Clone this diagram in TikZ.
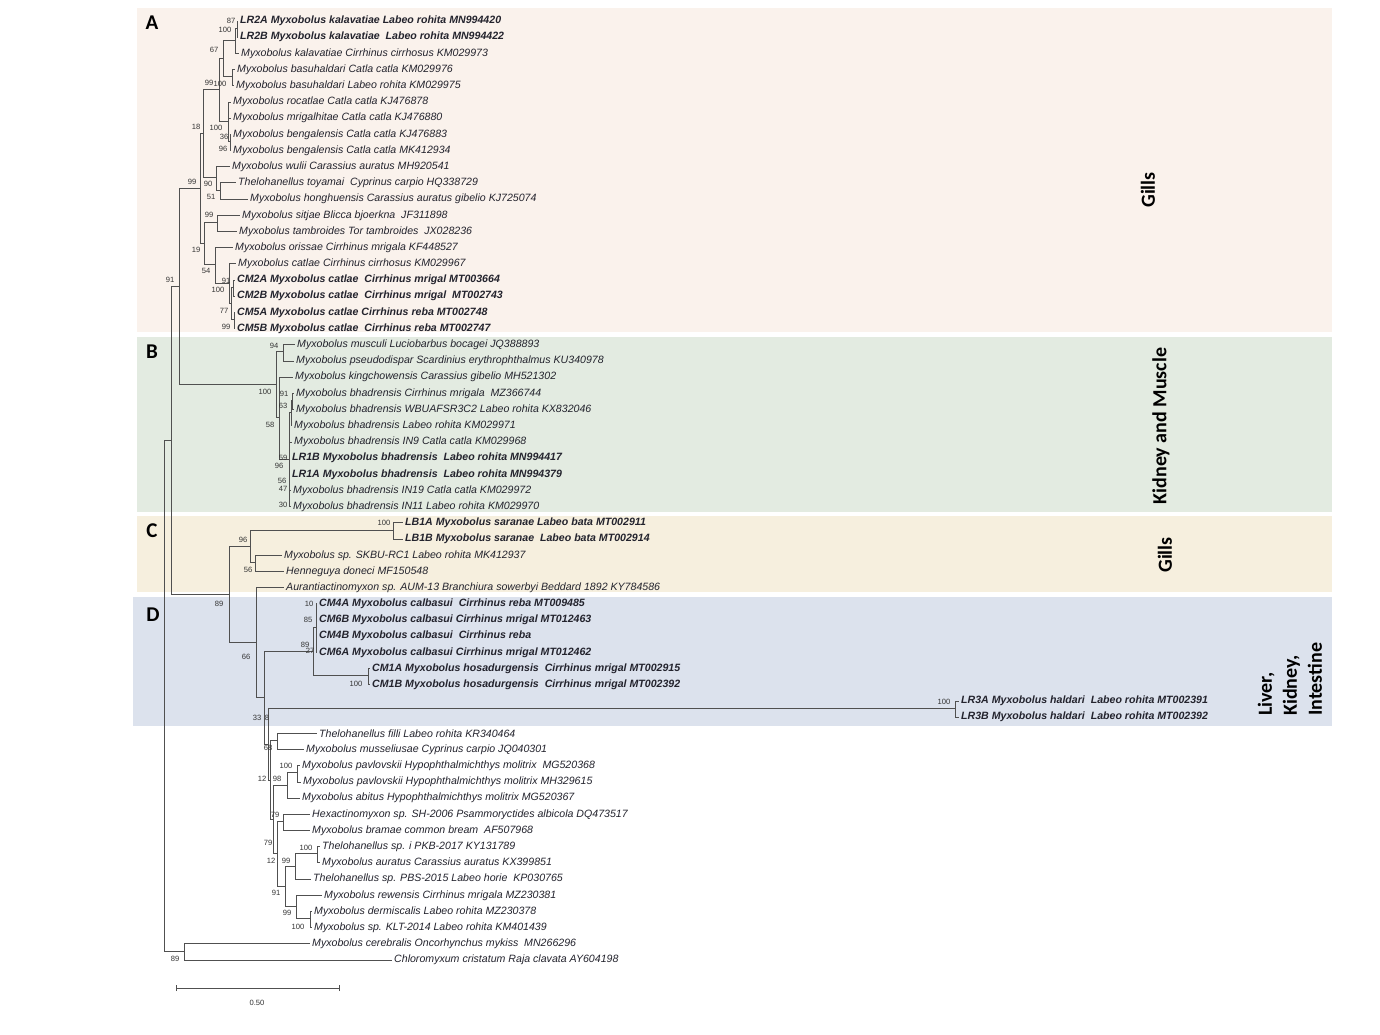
\documentclass[tikz,border=0pt]{standalone}
\usepackage{fontspec}
\setmainfont{Liberation Sans}
\newfontfamily\calfont{Carlito}
\definecolor{pA}{RGB}{250,242,236}
\definecolor{pB}{RGB}{227,235,225}
\definecolor{pC}{RGB}{246,239,222}
\definecolor{pD}{RGB}{220,226,237}
\definecolor{tline}{RGB}{80,80,80}
\definecolor{ltxt}{RGB}{35,35,45}
\newcommand\tedge[2]{\draw[tr] (#1) |- (#2);}
\newcommand\ledge[2]{\draw[tr] (#1) |- ([xshift=-2.5pt]#2.west);}
\begin{document}
\begin{tikzpicture}[x=1pt,y=-1pt,
 tr/.style={draw=tline,line width=0.9pt},
 lf/.style={anchor=west,inner sep=0pt,yshift=-1pt,text=ltxt,font=\fontsize{10.6}{12}\selectfont\itshape},
 lfb/.style={lf,font=\fontsize{10.6}{12}\selectfont\bfseries\itshape},
 bs/.style={inner sep=0pt,text=black!80,font=\fontsize{7.6}{8}\selectfont},
 tissue/.style={inner sep=0pt,font=\calfont\bfseries\fontsize{20}{25}\selectfont},
 letter/.style={inner sep=0pt,font=\calfont\bfseries\fontsize{21}{24}\selectfont}]
\useasboundingbox[fill=white] (0,0) rectangle (1380,1035);
% panels
\fill[pA] (137,8) rectangle (1332,332);
\fill[pB] (137,337) rectangle (1332,512);
\fill[pC] (137,516) rectangle (1332,592);
\fill[pD] (133,597) rectangle (1332,726);
\node[letter] (lA) at (152,23) {A};
\node[letter] (lB) at (152,352) {B};
\node[letter] (lC) at (152,531) {C};
\node[letter] (lD) at (153,615) {D};
\node[tissue,rotate=90] (tA) at (1148,190) {Gills};
\node[tissue,rotate=90] (tB) at (1161,426) {Kidney and Muscle};
\node[tissue,rotate=90] (tC) at (1165,555) {Gills};
\node[tissue,rotate=90,anchor=west,align=left] (tD) at (1290,716) {Liver,\\Kidney,\\Intestine};
% leaves
\node[lfb] (L1) at (240,20.0) {LR2A Myxobolus kalavatiae Labeo rohita MN994420};
\node[lfb] (L2) at (240,36.2) {LR2B Myxobolus kalavatiae\ \ Labeo rohita MN994422};
\node[lf] (L3) at (241,52.4) {Myxobolus kalavatiae Cirrhinus cirrhosus KM029973};
\node[lf] (L4) at (237,68.6) {Myxobolus basuhaldari Catla catla KM029976};
\node[lf] (L5) at (236,84.8) {Myxobolus basuhaldari Labeo rohita KM029975};
\node[lf] (L6) at (233,101.0) {Myxobolus rocatlae Catla catla KJ476878};
\node[lf] (L7) at (233,117.1) {Myxobolus mrigalhitae Catla catla KJ476880};
\node[lf] (L8) at (233,133.3) {Myxobolus bengalensis Catla catla KJ476883};
\node[lf] (L9) at (233,149.5) {Myxobolus bengalensis Catla catla MK412934};
\node[lf] (L10) at (232,165.7) {Myxobolus wulii Carassius auratus MH920541};
\node[lf] (L11) at (238,181.9) {Thelohanellus toyamai\ \ Cyprinus carpio HQ338729};
\node[lf] (L12) at (250,198.1) {Myxobolus honghuensis Carassius auratus gibelio KJ725074};
\node[lf] (L13) at (242,214.3) {Myxobolus sitjae Blicca bjoerkna\ \ JF311898};
\node[lf] (L14) at (239,230.5) {Myxobolus tambroides Tor tambroides\ \ JX028236};
\node[lf] (L15) at (235,246.7) {Myxobolus orissae Cirrhinus mrigala KF448527};
\node[lf] (L16) at (238,262.9) {Myxobolus catlae Cirrhinus cirrhosus KM029967};
\node[lfb] (L17) at (237,279.0) {CM2A Myxobolus catlae\ \ Cirrhinus mrigal MT003664};
\node[lfb] (L18) at (237,295.2) {CM2B Myxobolus catlae\ \ Cirrhinus mrigal\ \ MT002743};
\node[lfb] (L19) at (237,311.4) {CM5A Myxobolus catlae Cirrhinus reba MT002748};
\node[lfb] (L20) at (237,327.6) {CM5B Myxobolus catlae\ \ Cirrhinus reba MT002747};
\node[lf] (L21) at (297,343.8) {Myxobolus musculi Luciobarbus bocagei JQ388893};
\node[lf] (L22) at (296,360.0) {Myxobolus pseudodispar Scardinius erythrophthalmus KU340978};
\node[lf] (L23) at (295,376.2) {Myxobolus kingchowensis Carassius gibelio MH521302};
\node[lf] (L24) at (296,392.4) {Myxobolus bhadrensis Cirrhinus mrigala\ \ MZ366744};
\node[lf] (L25) at (296,408.6) {Myxobolus bhadrensis WBUAFSR3C2 Labeo rohita KX832046};
\node[lf] (L26) at (294,424.8) {Myxobolus bhadrensis Labeo rohita KM029971};
\node[lf] (L27) at (294,441.0) {Myxobolus bhadrensis IN9 Catla catla KM029968};
\node[lfb] (L28) at (292,457.1) {LR1B Myxobolus bhadrensis\ \ Labeo rohita MN994417};
\node[lfb] (L29) at (292,473.3) {LR1A Myxobolus bhadrensis\ \ Labeo rohita MN994379};
\node[lf] (L30) at (293,489.5) {Myxobolus bhadrensis IN19 Catla catla KM029972};
\node[lf] (L31) at (293,505.7) {Myxobolus bhadrensis IN11 Labeo rohita KM029970};
\node[lfb] (L32) at (405,521.9) {LB1A Myxobolus saranae Labeo bata MT002911};
\node[lfb] (L33) at (405,538.1) {LB1B Myxobolus saranae\ \ Labeo bata MT002914};
\node[lf] (L34) at (284,554.3) {Myxobolus sp. SKBU-RC1 Labeo rohita MK412937};
\node[lf] (L35) at (286,570.5) {Henneguya doneci MF150548};
\node[lf] (L36) at (286,586.7) {Aurantiactinomyxon sp. AUM-13 Branchiura sowerbyi Beddard 1892 KY784586};
\node[lfb] (L37) at (319,602.9) {CM4A Myxobolus calbasui\ \ Cirrhinus reba MT009485};
\node[lfb] (L38) at (319,619.0) {CM6B Myxobolus calbasui Cirrhinus mrigal MT012463};
\node[lfb] (L39) at (319,635.2) {CM4B Myxobolus calbasui\ \ Cirrhinus reba};
\node[lfb] (L40) at (319,651.4) {CM6A Myxobolus calbasui Cirrhinus mrigal MT012462};
\node[lfb] (L41) at (372,667.6) {CM1A Myxobolus hosadurgensis\ \ Cirrhinus mrigal MT002915};
\node[lfb] (L42) at (372,683.8) {CM1B Myxobolus hosadurgensis\ \ Cirrhinus mrigal MT002392};
\node[lfb] (L43) at (961,700.0) {LR3A Myxobolus haldari\ \ Labeo rohita MT002391};
\node[lfb] (L44) at (961,716.2) {LR3B Myxobolus haldari\ \ Labeo rohita MT002392};
\node[lf] (L45) at (319,732.4) {Thelohanellus filli Labeo rohita KR340464};
\node[lf] (L46) at (306,748.6) {Myxobolus musseliusae Cyprinus carpio JQ040301};
\node[lf] (L47) at (302,764.8) {Myxobolus pavlovskii Hypophthalmichthys molitrix\ \ MG520368};
\node[lf] (L48) at (303,781.0) {Myxobolus pavlovskii Hypophthalmichthys molitrix MH329615};
\node[lf] (L49) at (302,797.1) {Myxobolus abitus Hypophthalmichthys molitrix MG520367};
\node[lf] (L50) at (312,813.3) {Hexactinomyxon sp. SH-2006 Psammoryctides albicola DQ473517};
\node[lf] (L51) at (312,829.5) {Myxobolus bramae common bream\ \ AF507968};
\node[lf] (L52) at (322,845.7) {Thelohanellus sp. i PKB-2017 KY131789};
\node[lf] (L53) at (322,861.9) {Myxobolus auratus Carassius auratus KX399851};
\node[lf] (L54) at (313,878.1) {Thelohanellus sp. PBS-2015 Labeo horie\ \ KP030765};
\node[lf] (L55) at (324,894.3) {Myxobolus rewensis Cirrhinus mrigala MZ230381};
\node[lf] (L56) at (314,910.5) {Myxobolus dermiscalis Labeo rohita MZ230378};
\node[lf] (L57) at (314,926.7) {Myxobolus sp. KLT-2014 Labeo rohita KM401439};
\node[lf] (L58) at (312,942.9) {Myxobolus cerebralis Oncorhynchus mykiss\ \ MN266296};
\node[lf] (L59) at (394,959.0) {Chloromyxum cristatum Raja clavata AY604198};
% internal nodes
\coordinate (nA1) at (237,28.1);
\coordinate (nA2) at (235,40.3);
\coordinate (nA3) at (232,76.7);
\coordinate (nA4) at (223,58.5);
\coordinate (nA5) at (230,141.4);
\coordinate (nA6) at (228,121.2);
\coordinate (nA7) at (219,89.9);
\coordinate (nA9) at (220,190.0);
\coordinate (nA10) at (216,177.9);
\coordinate (nA11) at (203,133.9);
\coordinate (nA14) at (217,222.4);
\coordinate (nA17) at (233,287.1);
\coordinate (nA18) at (234,319.5);
\coordinate (nA19) at (231,303.3);
\coordinate (nA16) at (229,283.1);
\coordinate (nA15) at (215,264.9);
\coordinate (nA13) at (204,243.7);
\coordinate (nA12) at (200,188.8);
\coordinate (nB1) at (283,351.9);
\coordinate (nB5) at (292,400.5);
\coordinate (nB4) at (291,412.7);
\coordinate (nB3) at (289,459.2);
\coordinate (nB2) at (279,417.7);
\coordinate (nB) at (276,384.8);
\coordinate (nAB) at (179,286.8);
\coordinate (nLB) at (393,530.0);
\coordinate (nC2) at (255,562.4);
\coordinate (nC1) at (250,546.2);
\coordinate (nCM2) at (316,627.2);
\coordinate (nCM1) at (368,675.7);
\coordinate (nCM) at (313,651.4);
\coordinate (nLR3) at (955,708.1);
\coordinate (nE1) at (277,740.5);
\coordinate (nE3) at (297,772.9);
\coordinate (nE2) at (287,785.0);
\coordinate (nE4) at (283,821.4);
\coordinate (nE5) at (317,853.8);
\coordinate (nE6) at (295,866.0);
\coordinate (nE7) at (310,918.6);
\coordinate (nE8) at (296,906.5);
\coordinate (nE9) at (285,886.2);
\coordinate (nE10) at (277,853.8);
\coordinate (nE11) at (273,819.4);
\coordinate (nE12) at (270,780.0);
\coordinate (nD3) at (268,744.0);
\coordinate (nD2) at (264,697.7);
\coordinate (nD1) at (256,642.2);
\coordinate (nCD) at (229,594.2);
\coordinate (nABCD) at (171,440.5);
\coordinate (nOut) at (184,951.0);
\coordinate (root) at (164,695.8);
% edges
\ledge{nA1}{L1}\ledge{nA1}{L2}
\tedge{nA2}{nA1}\ledge{nA2}{L3}
\ledge{nA3}{L4}\ledge{nA3}{L5}
\tedge{nA4}{nA2}\tedge{nA4}{nA3}
\ledge{nA5}{L8}\ledge{nA5}{L9}
\ledge{nA6}{L6}\ledge{nA6}{L7}\tedge{nA6}{nA5}
\tedge{nA7}{nA4}\tedge{nA7}{nA6}
\ledge{nA9}{L11}\ledge{nA9}{L12}
\ledge{nA10}{L10}\tedge{nA10}{nA9}
\tedge{nA11}{nA7}\tedge{nA11}{nA10}
\ledge{nA14}{L13}\ledge{nA14}{L14}
\ledge{nA17}{L17}\ledge{nA17}{L18}
\ledge{nA18}{L19}\ledge{nA18}{L20}
\tedge{nA19}{nA17}\tedge{nA19}{nA18}
\ledge{nA16}{L16}\tedge{nA16}{nA19}
\ledge{nA15}{L15}\tedge{nA15}{nA16}
\tedge{nA13}{nA14}\tedge{nA13}{nA15}
\tedge{nA12}{nA11}\tedge{nA12}{nA13}
\ledge{nB1}{L21}\ledge{nB1}{L22}
\ledge{nB5}{L24}\ledge{nB5}{L25}
\tedge{nB4}{nB5}\ledge{nB4}{L26}
\tedge{nB3}{nB4}\ledge{nB3}{L27}\ledge{nB3}{L28}\ledge{nB3}{L29}\ledge{nB3}{L30}\ledge{nB3}{L31}
\ledge{nB2}{L23}\tedge{nB2}{nB3}
\tedge{nB}{nB1}\tedge{nB}{nB2}
\tedge{nAB}{nA12}\tedge{nAB}{nB}
\ledge{nLB}{L32}\ledge{nLB}{L33}
\ledge{nC2}{L34}\ledge{nC2}{L35}
\tedge{nC1}{nLB}\tedge{nC1}{nC2}
\ledge{nCM2}{L37}\ledge{nCM2}{L38}\ledge{nCM2}{L39}\ledge{nCM2}{L40}
\ledge{nCM1}{L41}\ledge{nCM1}{L42}
\tedge{nCM}{nCM2}\tedge{nCM}{nCM1}
\ledge{nLR3}{L43}\ledge{nLR3}{L44}
\ledge{nE1}{L45}\ledge{nE1}{L46}
\ledge{nE3}{L47}\ledge{nE3}{L48}
\tedge{nE2}{nE3}\ledge{nE2}{L49}
\ledge{nE4}{L50}\ledge{nE4}{L51}
\ledge{nE5}{L52}\ledge{nE5}{L53}
\tedge{nE6}{nE5}\ledge{nE6}{L54}
\ledge{nE7}{L56}\ledge{nE7}{L57}
\ledge{nE8}{L55}\tedge{nE8}{nE7}
\tedge{nE9}{nE6}\tedge{nE9}{nE8}
\tedge{nE10}{nE4}\tedge{nE10}{nE9}
\tedge{nE11}{nE2}\tedge{nE11}{nE10}
\tedge{nE12}{nE1}\tedge{nE12}{nE11}
\tedge{nD3}{nLR3}\tedge{nD3}{nE12}
\tedge{nD2}{nCM}\tedge{nD2}{nD3}
\ledge{nD1}{L36}\tedge{nD1}{nD2}
\tedge{nCD}{nC1}\tedge{nCD}{nD1}
\tedge{nABCD}{nAB}\tedge{nABCD}{nCD}
\ledge{nOut}{L58}\ledge{nOut}{L59}
\tedge{root}{nABCD}\tedge{root}{nOut}
% bootstrap values
\node[bs] (b1) at (231,21) {87};
\node[bs] (b2) at (225,30) {100};
\node[bs] (b3) at (214,50) {67};
\node[bs] (b4) at (209,83) {99};
\node[bs] (b5) at (220,84) {100};
\node[bs] (b6) at (196,127) {18};
\node[bs] (b7) at (216,128) {100};
\node[bs] (b8) at (224,137) {36};
\node[bs] (b9) at (223,149) {96};
\node[bs] (b10) at (192,182) {99};
\node[bs] (b11) at (208,184) {90};
\node[bs] (b12) at (211,197) {51};
\node[bs] (b13) at (209,215) {99};
\node[bs] (b14) at (196,250) {19};
\node[bs] (b15) at (206,271) {54};
\node[bs] (b16) at (226,281) {91};
\node[bs] (b17) at (218,290) {100};
\node[bs] (b18) at (224,311) {77};
\node[bs] (b19) at (226,327) {99};
\node[bs] (b20) at (170,280) {91};
\node[bs] (b21) at (274,346) {94};
\node[bs] (b22) at (265,392) {100};
\node[bs] (b23) at (284,394) {91};
\node[bs] (b24) at (283,406) {63};
\node[bs] (b25) at (270,425) {58};
\node[bs] (b26) at (283,458) {59};
\node[bs] (b27) at (279,466) {96};
\node[bs] (b28) at (282,481) {56};
\node[bs] (b29) at (283,489) {47};
\node[bs] (b30) at (283,505) {30};
\node[bs] (b31) at (384,523) {100};
\node[bs] (b32) at (243,540) {96};
\node[bs] (b33) at (248,570) {56};
\node[bs] (b34) at (219,604) {89};
\node[bs] (b35) at (309,604) {10};
\node[bs] (b36) at (308,620) {85};
\node[bs] (b37) at (305,645) {89};
\node[bs] (b38) at (310,651) {27};
\node[bs] (b39) at (246,657) {66};
\node[bs] (b40) at (356,684) {100};
\node[bs] (b41) at (944,702) {100};
\node[bs] (b42) at (257,718) {33};
\node[bs] (b43) at (267,718) {8};
\node[bs] (b44) at (268,748) {68};
\node[bs] (b45) at (286,766) {100};
\node[bs] (b46) at (262,779) {12};
\node[bs] (b47) at (277,779) {98};
\node[bs] (b48) at (275,815) {79};
\node[bs] (b49) at (268,843) {79};
\node[bs] (b50) at (306,848) {100};
\node[bs] (b51) at (271,861) {12};
\node[bs] (b52) at (286,861) {99};
\node[bs] (b53) at (276,893) {91};
\node[bs] (b54) at (287,913) {99};
\node[bs] (b55) at (298,927) {100};
\node[bs] (b56) at (175,959) {89};
% scale bar
\coordinate (sb1) at (176,988);
\coordinate (sb2) at (339,988);
\draw[tr] (sb1) -- (sb2);
\draw[tr] ([yshift=-3pt]sb1) -- ([yshift=3pt]sb1);
\draw[tr] ([yshift=-3pt]sb2) -- ([yshift=3pt]sb2);
\node[bs] (sbl) at (257,1003) {0.50};
\end{tikzpicture}
\end{document}
